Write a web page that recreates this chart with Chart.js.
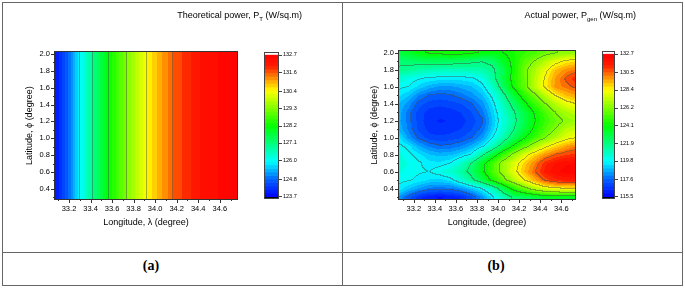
<!DOCTYPE html>
<html>
<head>
<meta charset="utf-8">
<script src="https://cdn.jsdelivr.net/npm/chart.js@4.4.0/dist/chart.umd.min.js"></script>
<style>
body { margin: 0; background: #fff; width: 685px; height: 288px; position: relative; overflow: hidden; }
canvas { position: absolute; }
.line { position: absolute; background: #666; }
.lab { position: absolute; font: bold 14px "Liberation Serif", "Times New Roman", serif; transform: translateX(-50%); color: #000; }
</style>
</head>
<body>
<div class="line" style="left:2px;top:2px;width:681px;height:1px"></div>
<div class="line" style="left:2px;top:285px;width:681px;height:1px"></div>
<div class="line" style="left:2px;top:2px;width:1px;height:284px"></div>
<div class="line" style="left:682px;top:2px;width:1px;height:284px"></div>
<div class="line" style="left:342px;top:2px;width:1px;height:284px"></div>
<div class="line" style="left:2px;top:252px;width:681px;height:1px"></div>
<div class="lab" style="left:151px;top:258px">(a)</div>
<div class="lab" style="left:496px;top:258px">(b)</div>
<canvas id="chartA" width="338" height="248" style="left:3px;top:3px"></canvas>
<canvas id="chartB" width="338" height="248" style="left:343px;top:3px"></canvas>
<script>
// axis ticks
const xMajor = [33.2, 33.4, 33.6, 33.8, 34.0, 34.2, 34.4, 34.6];
const xMinor = [33.1, 33.3, 33.5, 33.7, 33.9, 34.1, 34.3, 34.5, 34.7];
const yMajor = [0.4, 0.6, 0.8, 1.0, 1.2, 1.4, 1.6, 1.8, 2.0];
const yMinor = [0.3, 0.5, 0.7, 0.9, 1.1, 1.3, 1.5, 1.7, 1.9];

// (a) theoretical power, only varies with longitude
const theoLon = [33.07, 33.19, 33.31, 33.43, 33.57, 33.73, 33.92, 34.17, 34.45, 34.76];
const theoPower = [123.9, 124.8, 126.0, 127.1, 128.2, 129.3, 130.45, 131.6, 132.35, 132.65];
const theoTicks = [123.7, 124.8, 126.0, 127.1, 128.2, 129.3, 130.4, 131.6, 132.7];

// (b) actual power, rows from lat 2.0 down to 0.3
const genLon = [33.05, 33.15, 33.25, 33.35, 33.45, 33.55, 33.65, 33.75, 33.85, 33.95, 34.05, 34.15, 34.25, 34.35, 34.45, 34.55, 34.65, 34.75];
const genLat = [2.0, 1.9, 1.8, 1.7, 1.6, 1.5, 1.4, 1.3, 1.2, 1.1, 1.0, 0.9, 0.8, 0.7, 0.6, 0.5, 0.4, 0.3];
const genPower = [
  [123.0,123.4,123.9,124.2,124.4,124.5,124.5,124.3,124.0,123.8,124.1,124.5,124.9,125.3,125.8,126.2,126.5,126.6],
  [122.2,122.3,122.5,122.6,122.6,122.5,122.4,122.2,122.0,122.3,123.5,124.4,125.5,126.3,127.2,128.0,128.6,128.8],
  [121.8,121.6,121.3,121.1,121.0,121.0,121.0,121.1,121.3,121.7,122.8,124.4,125.9,127.0,128.1,129.3,129.9,130.3],
  [120.6,120.2,119.9,119.7,119.6,119.6,119.6,119.7,120.2,121.5,123.0,124.5,125.8,127.2,128.5,129.8,130.7,131.3],
  [120.0,119.8,119.2,118.7,118.4,118.4,118.6,118.9,119.5,120.8,122.6,124.3,125.8,127.3,128.6,129.9,130.3,130.8],
  [119.5,119.0,118.1,117.6,117.5,117.6,117.9,118.3,118.9,120.0,121.6,123.2,124.7,126.0,127.3,128.5,129.3,129.7],
  [119.0,118.3,117.4,117.0,116.9,117.0,117.2,117.6,118.3,119.5,121.0,122.4,123.8,125.0,126.2,127.3,128.0,128.5],
  [118.8,117.9,117.0,116.6,116.5,116.6,116.8,117.2,117.9,119.2,120.6,121.8,123.0,124.2,125.3,126.3,127.0,127.4],
  [118.7,117.9,117.0,116.5,116.3,116.4,116.6,117.0,117.5,119.0,120.4,121.6,122.8,124.0,125.0,125.8,126.4,126.8],
  [118.9,118.0,117.1,116.6,116.5,116.6,116.8,117.2,117.8,119.2,120.6,121.9,123.1,124.3,125.4,126.3,127.2,127.6],
  [119.7,118.4,117.5,117.0,116.9,117.0,117.2,117.6,118.4,119.8,121.2,122.6,123.9,125.1,126.2,127.2,128.0,128.4],
  [120.0,119.6,118.6,118.0,117.7,117.8,118.1,118.7,119.6,121.0,122.7,124.3,125.7,127.0,128.1,129.0,129.7,130.2],
  [120.4,120.0,119.5,119.0,118.8,118.9,119.3,119.9,121.7,123.3,125.0,126.6,127.9,129.0,129.9,130.6,131.0,131.1],
  [120.5,120.2,119.9,119.5,119.5,119.8,120.7,122.0,123.6,125.2,126.8,127.8,129.0,130.1,131.3,131.9,132.2,132.3],
  [120.3,120.1,119.9,119.8,120.2,120.7,121.4,122.4,123.8,125.3,126.7,128.0,129.3,130.5,131.6,132.2,132.5,132.6],
  [120.0,119.9,119.6,119.3,119.2,119.5,120.5,121.6,122.9,124.4,125.8,127.1,128.4,129.5,130.7,131.3,131.5,131.5],
  [119.7,119.0,118.4,117.9,117.8,117.9,118.3,119.0,119.8,121.0,122.8,124.6,125.8,127.0,127.8,128.2,128.4,128.4],
  [118.5,117.4,116.5,116.0,115.9,116.0,116.4,117.2,118.3,119.6,121.0,122.2,122.5,123.0,123.4,123.6,123.6,123.5]
];
const genTicks = [115.5, 117.6, 119.8, 121.9, 124.1, 126.2, 128.4, 130.5, 132.7];

const FONT = '"Liberation Sans", Arial, sans-serif';

function pos(xs, v) {
  // fractional index of v in a monotonic list
  const n = xs.length, asc = xs[n - 1] > xs[0];
  for (let i = 1; i < n; i++) {
    const a = xs[i - 1], b = xs[i];
    if ((asc && v <= b) || (!asc && v >= b)) {
      return Math.max(0, i - 1 + (v - a) / (b - a));
    }
  }
  return n - 1;
}

function theoValue(lon) {
  const f = pos(theoLon, lon), i = Math.min(Math.floor(f), theoLon.length - 2), t = f - i;
  return theoPower[i] * (1 - t) + theoPower[i + 1] * t;
}

function genValue(lon, lat) {
  const fx = pos(genLon, lon), fy = pos(genLat, lat);
  const i = Math.min(Math.floor(fx), genLon.length - 2), j = Math.min(Math.floor(fy), genLat.length - 2);
  const tx = Math.min(fx - i, 1), ty = Math.min(fy - j, 1);
  const a = genPower[j][i], b = genPower[j][i + 1], c = genPower[j + 1][i], d = genPower[j + 1][i + 1];
  return (a * (1 - tx) + b * tx) * (1 - ty) + (c * (1 - tx) + d * tx) * ty;
}

const stops = [
  [0, 0, 0, 255], [0.125, 0, 100, 255], [0.25, 0, 255, 255], [0.375, 0, 255, 128],
  [0.5, 0, 255, 0], [0.625, 128, 255, 0], [0.75, 255, 255, 0], [0.85, 255, 128, 0],
  [0.92, 255, 30, 0], [1, 255, 0, 0]
];
function rainbow(t) {
  for (let k = 1; k < stops.length; k++) {
    if (t <= stops[k][0]) {
      const s0 = stops[k - 1], s1 = stops[k], f = (t - s0[0]) / (s1[0] - s0[0]);
      return [0, 1, 2].map(m => Math.round(s0[m + 1] + f * (s1[m + 1] - s0[m + 1])));
    }
  }
  return [255, 0, 0];
}
function bandColor(v, lo, hi, nb) {
  const t = (v - lo) / (hi - lo);
  if (t < 0) return [0, 0, 0];
  if (t > 1) return [255, 255, 255];
  const b = Math.min(nb - 1, Math.floor(t * nb));
  return rainbow((b + 0.5) / nb);
}

function drawField(chart, p) {
  const { ctx, chartArea: a, scales } = chart;
  const x = scales.x, y = scales.y, c = scales.c;
  const lo = p.ticks[0], hi = p.ticks[p.ticks.length - 1];
  const step = (hi - lo) / (p.ticks.length - 1), nb = (p.ticks.length - 1) * 5;
  const L = Math.round(a.left), T = Math.round(a.top);
  const w = Math.round(a.right) - L, h = Math.round(a.bottom) - T;
  const vals = new Float32Array(w * h);
  for (let j = 0; j < h; j++) {
    const lat = y.getValueForPixel(T + j + 0.5);
    for (let i = 0; i < w; i++) vals[j * w + i] = p.value(x.getValueForPixel(L + i + 0.5), lat);
  }
  const img = ctx.createImageData(w, h);
  const lev = v => Math.floor((v - lo) / step);
  for (let j = 0; j < h; j++) {
    for (let i = 0; i < w; i++) {
      const k = j * w + i, v = vals[k];
      let col = bandColor(v, lo, hi, nb);
      const l0 = lev(v);
      const edge = (i < w - 1 && lev(vals[k + 1]) !== l0) || (j < h - 1 && lev(vals[k + w]) !== l0);
      if (edge) col = col.map(q => Math.round(q * 0.55 + 70 * 0.45));
      img.data[k * 4] = col[0]; img.data[k * 4 + 1] = col[1]; img.data[k * 4 + 2] = col[2]; img.data[k * 4 + 3] = 255;
    }
  }
  ctx.putImageData(img, L, T);

  // frame
  ctx.save();
  ctx.strokeStyle = '#333';
  ctx.lineWidth = 1;
  ctx.strokeRect(L - 0.5, T - 0.5, w + 1, h + 1);
  // ticks
  ctx.beginPath();
  xMajor.forEach(v => { const px = Math.round(x.getPixelForValue(v)) + 0.5; ctx.moveTo(px, T + h); ctx.lineTo(px, T + h + 4); });
  xMinor.forEach(v => { const px = Math.round(x.getPixelForValue(v)) + 0.5; ctx.moveTo(px, T + h); ctx.lineTo(px, T + h + 2); });
  yMajor.forEach(v => { const py = Math.round(y.getPixelForValue(v)) + 0.5; ctx.moveTo(L, py); ctx.lineTo(L - 4, py); });
  yMinor.forEach(v => { const py = Math.round(y.getPixelForValue(v)) + 0.5; ctx.moveTo(L, py); ctx.lineTo(L - 2, py); });
  ctx.stroke();

  // colour bar
  const bx = L + w + p.barGap, bw = p.barWidth;
  const cTop = Math.round(c.top), cBot = Math.round(c.bottom);
  ctx.fillStyle = '#fff';
  ctx.fillRect(bx, cTop, bw, c.getPixelForValue(hi) - cTop);
  ctx.fillStyle = '#000';
  ctx.fillRect(bx, c.getPixelForValue(lo), bw, cBot - c.getPixelForValue(lo));
  for (let b = 0; b < nb; b++) {
    const v0 = lo + b * (hi - lo) / nb, v1 = lo + (b + 1) * (hi - lo) / nb;
    const y1 = c.getPixelForValue(v1), y0 = c.getPixelForValue(v0);
    const col = rainbow((b + 0.5) / nb);
    ctx.fillStyle = 'rgb(' + col.join(',') + ')';
    ctx.fillRect(bx, y1, bw, y0 - y1 + 0.6);
  }
  ctx.strokeStyle = '#444';
  ctx.strokeRect(bx + 0.5, cTop + 0.5, bw - 1, cBot - cTop - 1);
  ctx.beginPath();
  p.ticks.forEach(v => { const py = Math.round(c.getPixelForValue(v)) + 0.5; ctx.moveTo(bx + bw, py); ctx.lineTo(bx + bw + 3, py); });
  ctx.stroke();

  // title with subscript
  ctx.fillStyle = '#000';
  ctx.textBaseline = 'middle';
  const big = '9px ' + FONT, small = '6px ' + FONT;
  ctx.font = big; const w1 = ctx.measureText(p.title[0]).width, w3 = ctx.measureText(p.title[2]).width;
  ctx.font = small; const w2 = ctx.measureText(p.title[1]).width;
  let tx = p.titleRight - (w1 + w2 + w3);
  ctx.font = big; ctx.textAlign = 'left';
  ctx.fillText(p.title[0], tx, p.titleY);
  ctx.font = small; ctx.fillText(p.title[1], tx + w1, p.titleY + 3);
  ctx.font = big; ctx.fillText(p.title[2], tx + w1 + w2, p.titleY);
  ctx.restore();
}

function makePanel(id, p) {
  const tickFont = { family: FONT, size: 7.5 };
  const titleFont = { family: FONT, size: 9 };
  return new Chart(document.getElementById(id), {
    type: 'scatter',
    data: { datasets: [] },
    options: {
      responsive: false,
      animation: false,
      devicePixelRatio: 1,
      layout: { padding: { top: 24, left: 0, right: 0, bottom: 0 } },
      plugins: { legend: { display: false }, tooltip: { enabled: false } },
      scales: {
        x: {
          type: 'linear', position: 'bottom', min: p.xMin, max: p.xMax,
          afterBuildTicks: s => { s.ticks = xMajor.map(v => ({ value: v })); },
          ticks: { font: tickFont, color: '#000', padding: 5, maxRotation: 0, autoSkip: false, callback: v => v.toFixed(1) },
          grid: { display: false, drawTicks: false },
          border: { display: false },
          title: { display: true, text: p.xTitle, color: '#000', font: titleFont, padding: { top: 0, bottom: 22.6 } },
          afterFit: s => { s.height = 52; }
        },
        y: {
          type: 'linear', position: 'left', min: 0.28, max: 2.02,
          afterBuildTicks: s => { s.ticks = yMajor.map(v => ({ value: v })); },
          ticks: { font: tickFont, color: '#000', padding: 5, autoSkip: false, callback: v => v.toFixed(1) },
          grid: { display: false, drawTicks: false },
          border: { display: false },
          title: { display: true, text: 'Latitude, ϕ (degree)', color: '#000', font: titleFont, padding: { top: p.yTitlePad, bottom: 0 } },
          afterFit: s => { s.width = p.left; }
        },
        c: {
          type: 'linear', position: 'right', min: p.cMin, max: p.cMax,
          afterBuildTicks: s => { s.ticks = p.ticks.map(v => ({ value: v })); },
          ticks: { font: { family: FONT, size: 5.5 }, color: '#000', padding: p.labelPad, autoSkip: false, callback: v => v.toFixed(1) },
          grid: { display: false, drawTicks: false },
          border: { display: false },
          afterFit: s => { s.width = p.right; }
        }
      }
    },
    plugins: [{ id: 'field', beforeDatasetsDraw: chart => drawField(chart, p) }]
  });
}

makePanel('chartA', {
  value: (lon, lat) => theoValue(lon),
  ticks: theoTicks, cMin: 123.54, cMax: 132.86,
  xMin: 33.07, xMax: 34.76, left: 52, right: 104,
  xTitle: 'Longitude, λ (degree)', yTitlePad: 21.6,
  barGap: 27, barWidth: 15, labelPad: 46,
  title: ['Theoretical power, P', 'T', ' (W/sq.m)'], titleRight: 299, titleY: 13
});

makePanel('chartB', {
  value: genValue,
  ticks: genTicks, cMin: 115.19, cMax: 133.01,
  xMin: 33.06, xMax: 34.73, left: 56, right: 106,
  xTitle: 'Longitude, (degree)', yTitlePad: 25.9,
  barGap: 27, barWidth: 13, labelPad: 45,
  title: ['Actual power, P', 'gen', ' (W/sq.m)'], titleRight: 293, titleY: 13
});
</script>
</body>
</html>
